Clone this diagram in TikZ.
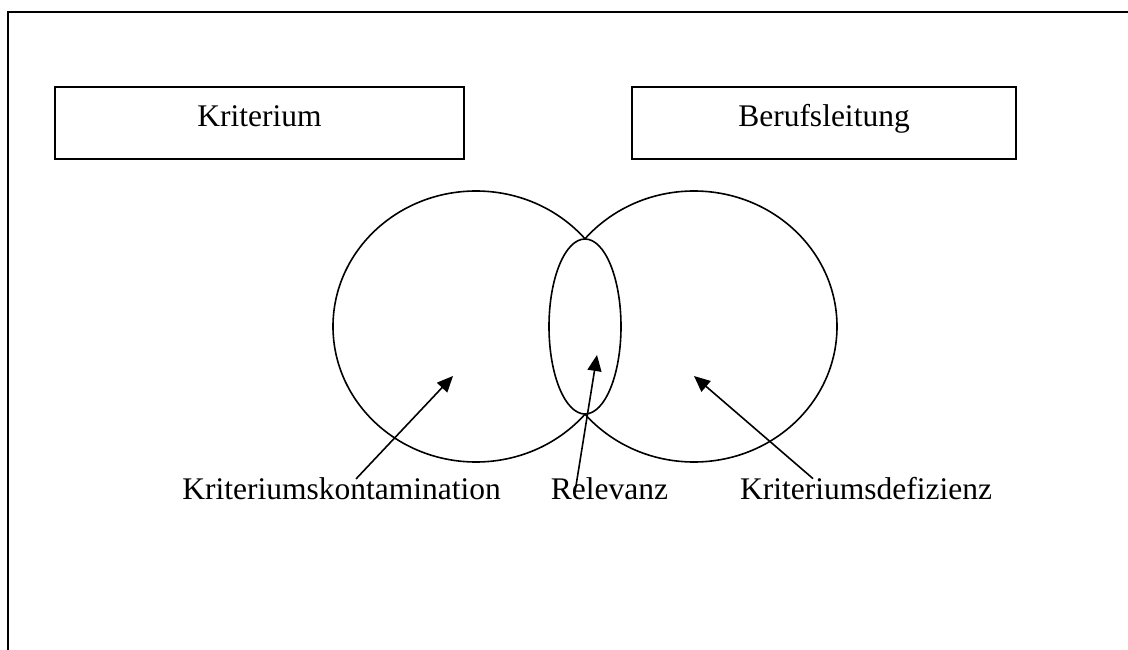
\documentclass[tikz,border=0pt]{standalone}
\usepackage{fontspec}
\setmainfont{Liberation Serif}
\usepackage{tikz}
\usetikzlibrary{arrows.meta, shapes.geometric}

\begin{document}
\begin{tikzpicture}[
  x=1pt, y=-1pt,
  font=\fontsize{31.5}{38}\selectfont,
  box/.style={draw, line width=2.2pt, minimum height=72pt, text height=22pt, text depth=14pt, inner sep=0pt},
  venn/.style={draw, ellipse, line width=1.6pt, inner sep=0pt},
  caption/.style={anchor=base, inner sep=0pt},
  arrow/.style={-{Triangle[length=16pt, width=14pt]}, line width=1.6pt}
]
\useasboundingbox (0,0) rectangle (1128,650);
\draw[line width=2.2pt] (1128,12) -- (8,12) -- (8,650);

\node[box, minimum width=409pt] (krit) at (259.5,123) {Kriterium};
\node[box, minimum width=384pt] (beruf) at (824,123) {Berufsleitung};

% two overlapping sets, the lens covered by the relevance ellipse
\node[venn, minimum width=286pt, minimum height=271pt] (kritset) at (476,326.5) {};
\node[venn, minimum width=286pt, minimum height=271pt] (berufset) at (694,326.5) {};
\node[venn, fill=white, minimum width=72pt, minimum height=175pt] (relset) at (585,326.5) {};

\node[caption] (kont) at (341.5,499) {Kriteriumskontamination};
\node[caption] (relev) at (609.5,499) {Relevanz};
\node[caption] (defiz) at (866,499) {Kriteriumsdefizienz};

\coordinate (kontTip) at (453,376);
\coordinate (relTip) at (597,355);
\coordinate (defizTip) at (694,376);
\coordinate (relTail) at (575,492);

\draw[arrow] ([xshift=14.5pt, yshift=-2pt]kont.north) -- (kontTip);
\draw[arrow] (relTail) -- (relTip);
\draw[arrow] ([xshift=-53pt, yshift=-2pt]defiz.north) -- (defizTip);
\end{tikzpicture}
\end{document}
